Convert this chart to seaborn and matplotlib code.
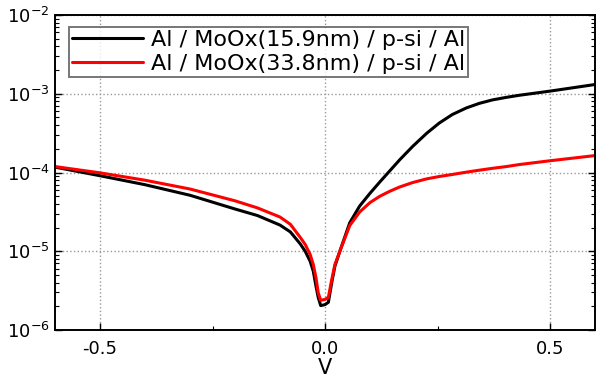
import matplotlib
matplotlib.use("Agg")
import matplotlib.pyplot as plt
import matplotlib.ticker as mticker
import pandas as pd
import seaborn as sns

# I-V data (V in volts, I in amps)
voltage = [-0.6, -0.5, -0.4, -0.3, -0.2, -0.15, -0.1, -0.077, -0.055, -0.044,
           -0.033, -0.026, -0.02, -0.015, -0.0095, 0.0, 0.0075, 0.015, 0.022, 0.033,
           0.055, 0.077, 0.1, 0.122, 0.144, 0.166, 0.195, 0.226, 0.254, 0.283,
           0.314, 0.343, 0.372, 0.403, 0.431, 0.5, 0.6]
current_15nm = [1.17e-4, 9.1e-5, 7.0e-5, 5.14e-5, 3.44e-5, 2.84e-5, 2.15e-5, 1.76e-5,
                1.24e-5, 1.0e-5, 7.46e-6, 5.57e-6, 3.59e-6, 2.58e-6, 2.04e-6, 2.1e-6,
                2.25e-6, 4.0e-6, 6.45e-6, 1.0e-5, 2.3e-5, 3.75e-5, 5.45e-5, 7.6e-5,
                1.05e-4, 1.45e-4, 2.15e-4, 3.15e-4, 4.25e-4, 5.45e-4, 6.6e-4, 7.55e-4,
                8.35e-4, 9.0e-4, 9.55e-4, 1.08e-3, 1.31e-3]
current_33nm = [1.19e-4, 9.9e-5, 7.98e-5, 6.17e-5, 4.37e-5, 3.55e-5, 2.72e-5, 2.2e-5,
                1.5e-5, 1.22e-5, 9.1e-6, 6.78e-6, 4.59e-6, 2.96e-6, 2.38e-6, 2.45e-6,
                2.6e-6, 4.37e-6, 6.78e-6, 1.0e-5, 2.12e-5, 3.15e-5, 4.15e-5, 5.0e-5,
                5.78e-5, 6.55e-5, 7.46e-5, 8.3e-5, 8.9e-5, 9.44e-5, 1.01e-4, 1.07e-4,
                1.13e-4, 1.19e-4, 1.26e-4, 1.41e-4, 1.64e-4]
labels = ["Al / MoOx(15.9nm) / p-si / Al", "Al / MoOx(33.8nm) / p-si / Al"]
colors = ["black", "red"]

n = len(voltage)
df = pd.DataFrame({
    "V": voltage * 2,
    "I": current_15nm + current_33nm,
    "device": [labels[0]] * n + [labels[1]] * n,
})

sns.set_style("white")
plt.rcParams["font.family"] = ["DejaVu Sans"]
plt.rcParams["axes.unicode_minus"] = False
plt.rcParams["text.color"] = "black"
plt.rcParams["xtick.color"] = "black"
plt.rcParams["ytick.color"] = "black"
plt.rcParams["axes.labelcolor"] = "black"

fig = plt.figure(figsize=(5.97, 3.78), dpi=100)
ax = fig.add_axes([55 / 597, 48 / 378, 540 / 597, 315 / 378])

sns.lineplot(data=df, x="V", y="I", hue="device", palette=colors,
             linewidth=2.2, sort=False, estimator=None, ax=ax)

ax.set_yscale("log")
ax.set_ylim(1e-6, 1e-2)
ax.set_xlim(-0.6, 0.6)
ax.set_xticks([-0.5, 0.0, 0.5])
ax.set_xticklabels(["-0.5", "0.0", "0.5"])
ax.xaxis.set_minor_locator(mticker.MultipleLocator(0.25))
ax.yaxis.set_major_locator(mticker.LogLocator(base=10, numticks=10))
ax.yaxis.set_minor_locator(mticker.LogLocator(base=10, subs=range(2, 10), numticks=20))
ax.yaxis.set_minor_formatter(mticker.NullFormatter())

ax.grid(True, which="major", linestyle=":", color="#999999", linewidth=1.0)
ax.tick_params(which="both", direction="in", bottom=True, left=True,
               top=False, right=True, labelsize=13)
ax.tick_params(which="major", length=5, width=1)
ax.tick_params(which="minor", length=3, width=0.8)
ax.tick_params(axis="x", pad=7)
ax.tick_params(axis="y", pad=4)
for sp in ax.spines.values():
    sp.set_linewidth(1.4)
    sp.set_color("black")

ax.set_xlabel("V", fontsize=15, labelpad=0)
ax.set_ylabel("")

leg = ax.legend(loc="upper left", bbox_to_anchor=(0.026, 0.962), borderaxespad=0,
                fontsize=16, frameon=True, fancybox=False, handlelength=3.2,
                handletextpad=0.35, labelspacing=0.19, borderpad=0.12)
leg.get_frame().set_edgecolor("#555555")
leg.get_frame().set_linewidth(1.4)
for line in leg.get_lines():
    line.set_linewidth(2.2)

fig.savefig("out.png", dpi=100)
